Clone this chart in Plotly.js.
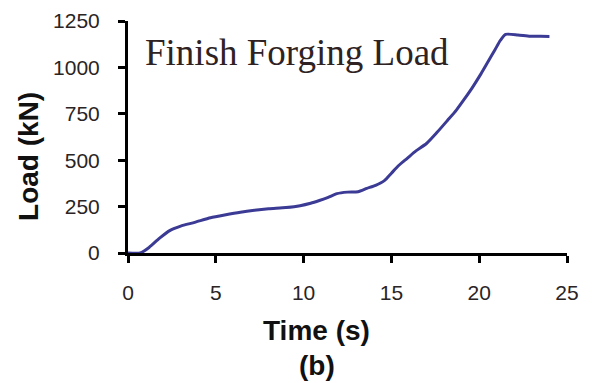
<!DOCTYPE html>
<html>
<head>
<meta charset="utf-8">
<script src="https://cdn.plot.ly/plotly-3.0.1.min.js"></script>
<style>html,body{margin:0;padding:0;background:#fff;}#chart{width:592px;height:383px;}</style>
</head>
<body>
<div id="chart"></div>
<script>
// Data
const timeS = [0, 0.7, 1.2, 1.8, 2.4, 3.0, 3.8, 4.7, 5.5, 6.4, 7.2, 8.0, 9.0, 9.8, 10.4, 10.9, 11.4, 11.9, 12.5, 13.1, 13.6, 14.1, 14.6, 15.0, 15.4, 15.9, 16.4, 17.0, 17.6, 18.2, 18.7, 19.1, 19.6, 20.1, 20.5, 20.9, 21.2, 21.5, 22.2, 22.9, 23.5, 24.0];
const loadKN = [0, 0, 30, 80, 122, 145, 165, 190, 205, 220, 230, 238, 245, 255, 268, 283, 300, 320, 328, 330, 348, 365, 390, 430, 470, 510, 550, 590, 650, 715, 770, 822, 890, 965, 1030, 1095, 1145, 1178, 1175, 1168, 1168, 1167];
const xTicks = [0, 5, 10, 15, 20, 25];
const yTicks = [0, 250, 500, 750, 1000, 1250];
const chartLabel = "Finish Forging Load";
const xTitle = "Time (s)";
const yTitle = "Load (kN)";
const panelLabel = "(b)";

const trace = {
  x: timeS, y: loadKN, type: 'scatter', mode: 'lines',
  line: {color: '#3b3a94', width: 3, shape: 'spline', smoothing: 0.6},
  hoverinfo: 'none'
};

const tickFont = {family: 'Liberation Sans, Arial, sans-serif', size: 21, color: '#2a2424'};
const titleFont = {family: 'Liberation Sans, Arial, sans-serif', size: 28, color: '#111111', weight: 'bold'};

const layout = {
  width: 592, height: 383,
  margin: {l: 128, r: 25, t: 21, b: 130},
  paper_bgcolor: '#ffffff', plot_bgcolor: '#ffffff',
  showlegend: false,
  xaxis: {
    range: [0, 25], tickvals: xTicks, ticktext: xTicks.map(String),
    ticks: 'outside', ticklen: 7, tickwidth: 3, tickcolor: '#000',
    showline: true, linewidth: 3, linecolor: '#000',
    showgrid: false, zeroline: false, tickfont: tickFont,
    ticklabelstandoff: 12
  },
  yaxis: {
    range: [0, 1250], tickvals: yTicks, ticktext: yTicks.map(String),
    ticks: 'outside', ticklen: 7, tickwidth: 3, tickcolor: '#000',
    showline: true, linewidth: 3, linecolor: '#000',
    showgrid: false, zeroline: false, tickfont: tickFont,
    ticklabelstandoff: 14
  },
  annotations: [
    {text: chartLabel, xref: 'paper', yref: 'paper', x: 0.034, y: 0.866,
     xanchor: 'left', yanchor: 'middle', showarrow: false,
     font: {family: 'Liberation Serif, Times New Roman, serif', size: 37, color: '#2e2222'}},
    {text: xTitle, xref: 'paper', yref: 'paper', x: 0.43, y: -0.336,
     xanchor: 'center', yanchor: 'middle', showarrow: false, font: titleFont},
    {text: panelLabel, xref: 'paper', yref: 'paper', x: 0.43, y: -0.487,
     xanchor: 'center', yanchor: 'middle', showarrow: false, font: titleFont},
    {text: yTitle, xref: 'paper', yref: 'paper', x: -0.228, y: 0.418,
     xanchor: 'center', yanchor: 'middle', showarrow: false, textangle: -90, font: titleFont}
  ]
};

Plotly.newPlot('chart', [trace], layout, {staticPlot: true, displayModeBar: false});
</script>
</body>
</html>
